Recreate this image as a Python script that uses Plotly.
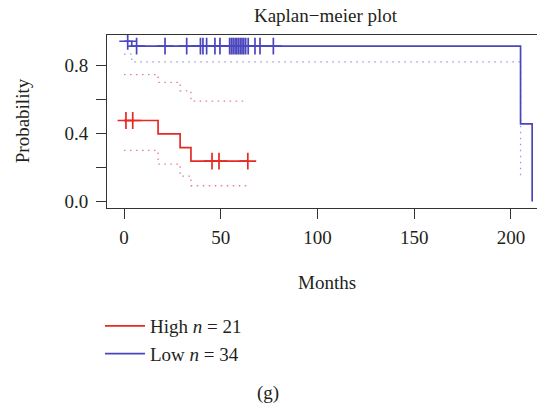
import plotly.graph_objects as go

# ---- data ----
high_times = [0, 17.6, 29, 34.6, 64]
high_surv = [0.476, 0.397, 0.317, 0.238, 0.238]
high_upper = [0.745, 0.70, 0.65, 0.59, 0.59]
high_lower = [0.30, 0.22, 0.15, 0.093, 0.093]
high_ci_times = [0, 17.6, 29, 34.6, 63.4]
high_censor = [1.0, 4.5, 45.5, 49.1, 64]

low_times = [0, 4, 205, 211]
low_surv = [0.941, 0.912, 0.456, 0.0]
low_lower_times = [0, 4, 205]
low_lower = [0.865, 0.82, 0.13]
low_censor = [1.9, 6.5, 21.2, 32.4, 39.5, 40.8, 42.7, 47, 49.6, 54.6, 55.5,
              56.4, 57.4, 58.3, 59.2, 60.1, 61.0, 61.9, 62.9, 64.2, 67.7, 70.3, 77.2]

x_ticks = [0, 50, 100, 150, 200]
y_ticks = [0.0, 0.2, 0.4, 0.6, 0.8]
y_ticktext = ["0.0", "", "0.4", "", "0.8"]

RED = "#E52A25"
BLUE = "#4A46BE"
RED_CI = "#E27C92"
BLUE_CI = "#9A98DA"
FONT = "Liberation Serif"
TXT = "#231F20"


def step_at(times, surv, t):
    val = surv[0]
    for ti, si in zip(times, surv):
        if ti <= t:
            val = si
    return val


fig = go.Figure()

# confidence intervals
fig.add_trace(go.Scatter(x=high_ci_times, y=high_upper, mode="lines", line_shape="hv",
                         line=dict(color=RED_CI, width=1.3, dash="1.5px,4.5px"),
                         showlegend=False, hoverinfo="skip"))
fig.add_trace(go.Scatter(x=high_ci_times, y=high_lower, mode="lines", line_shape="hv",
                         line=dict(color=RED_CI, width=1.3, dash="1.5px,4.5px"),
                         showlegend=False, hoverinfo="skip"))
fig.add_trace(go.Scatter(x=low_lower_times, y=low_lower, mode="lines", line_shape="hv",
                         line=dict(color=BLUE_CI, width=1.3, dash="1.5px,4.5px"),
                         showlegend=False, hoverinfo="skip"))

# survival curves
fig.add_trace(go.Scatter(x=high_times, y=high_surv, mode="lines", line_shape="hv",
                         line=dict(color=RED, width=1.7),
                         name="High <i>n</i> = 21", legendgroup="h"))
fig.add_trace(go.Scatter(x=low_times, y=low_surv, mode="lines", line_shape="hv",
                         line=dict(color=BLUE, width=1.7),
                         name="Low <i>n</i> = 34", legendgroup="l"))

# censor marks
fig.add_trace(go.Scatter(x=high_censor, y=[step_at(high_times, high_surv, t) for t in high_censor],
                         mode="markers",
                         marker=dict(symbol="cross-thin", size=12, line=dict(color=RED, width=1.7)),
                         showlegend=False, hoverinfo="skip"))
fig.add_trace(go.Scatter(x=low_censor, y=[step_at(low_times, low_surv, t) for t in low_censor],
                         mode="markers",
                         marker=dict(symbol="cross-thin", size=12, line=dict(color=BLUE, width=1.7)),
                         showlegend=False, hoverinfo="skip"))

W, H = 537, 411
L, T, B_PX = 107, 34.5, 208
PW = W - L
PH = B_PX - T

fig.update_layout(
    width=W, height=H,
    margin=dict(l=L, r=0, t=T, b=H - B_PX, pad=0, autoexpand=False),
    paper_bgcolor="white", plot_bgcolor="white",
    font=dict(family=FONT, size=20, color=TXT),
    title=dict(text="Kaplan\u2212meier plot", x=(325.5) / W, xanchor="center",
               y=1 - 15 / H, yanchor="middle", font=dict(size=19)),
    showlegend=True,
    legend=dict(xref="container", yref="container", x=100 / W, y=1 - 307 / H,
                xanchor="left", yanchor="top", font=dict(size=19),
                itemwidth=40, tracegroupgap=0, bgcolor="rgba(0,0,0,0)"),
)

fig.update_xaxes(range=[-8.8, 213.5], tickvals=x_ticks, ticks="outside", ticklen=10,
                 tickwidth=1, tickcolor="#333", showline=True, linecolor="#333", linewidth=1,
                 mirror=True, showgrid=False, zeroline=False, automargin=False,
                 ticklabelstandoff=2, tickfont=dict(size=19))
fig.update_yaxes(range=[-0.0376, 0.9776], tickvals=y_ticks, ticktext=y_ticktext,
                 ticks="outside", ticklen=10, tickwidth=1, tickcolor="#333",
                 showline=True, linecolor="#333", linewidth=1, mirror=False,
                 showgrid=False, zeroline=False, automargin=False,
                 ticklabelstandoff=4, tickfont=dict(size=19))

fig.add_annotation(text="Probability", xref="paper", yref="paper",
                   x=(22 - L) / PW, y=(B_PX - 121) / PH, textangle=-90,
                   showarrow=False, xanchor="center", yanchor="middle", font=dict(size=19))
fig.add_annotation(text="Months", xref="paper", yref="paper",
                   x=(327 - L) / PW, y=-(283 - B_PX) / PH,
                   showarrow=False, xanchor="center", yanchor="middle", font=dict(size=19))
fig.add_annotation(text="(g)", xref="paper", yref="paper",
                   x=(268 - L) / PW, y=-(394 - B_PX) / PH,
                   showarrow=False, xanchor="center", yanchor="middle", font=dict(size=19))

# remove the browser's default 8px page margin so the figure sits at the window's corner
fig.write_html("out.html", config={"displayModeBar": False},
               post_script="document.body.style.margin='0';")
